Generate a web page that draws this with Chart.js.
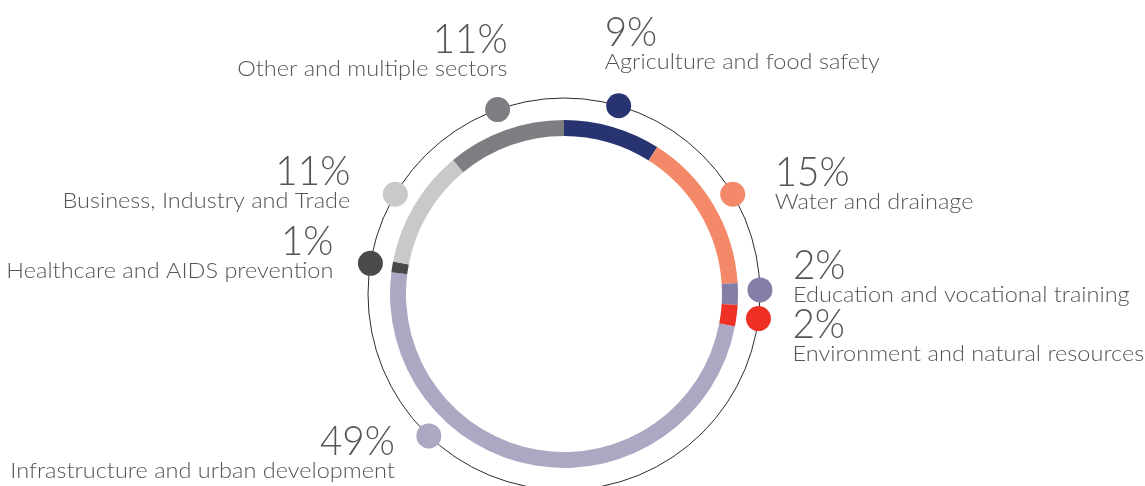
<!DOCTYPE html>
<html>
<head>
<meta charset="utf-8">
<title>Portfolio by sector</title>
<script src="https://cdn.jsdelivr.net/npm/chart.js@4"></script>
<style>
  html, body { margin: 0; padding: 0; background: #ffffff; }
  #wrap { width: 1145px; height: 486px; position: relative; overflow: hidden; }
</style>
</head>
<body>
<div id="wrap"><canvas id="chart" width="1145" height="486"></canvas></div>
<script>
// Sector shares (per cent), clockwise from the top
const categories = [
  'Agriculture and food safety',
  'Water and drainage',
  'Education and vocational training',
  'Environment and natural resources',
  'Infrastructure and urban development',
  'Healthcare and AIDS prevention',
  'Business, Industry and Trade',
  'Other and multiple sectors'
];
const shares = [9, 15, 2, 2, 49, 1, 11, 11];
const sectorColors = ['#283371', '#F4896A', '#847FA6', '#EE3124', '#ACA8C4', '#4A4A4C', '#C8C9CA', '#7D7E81'];

// Callout placement: marker angle (deg from top, null = slice middle),
// text offset from the marker and alignment
const callouts = [
  { angle: null,  dx: -14, dy: -60, align: 'left' },
  { angle: null,  dx: 42,  dy: -8,  align: 'left' },
  { angle: 88.8,  dx: 33,  dy: -11, align: 'left' },
  { angle: null,  dx: 34,  dy: 19,  align: 'left' },
  { angle: 223.6, dx: -34, dy: 19,  align: 'right' },
  { angle: null,  dx: -37, dy: -8,  align: 'right' },
  { angle: null,  dx: -45, dy: -9,  align: 'right' },
  { angle: null,  dx: 10,  dy: -57, align: 'right' }
];

const ORBIT_GAP = 22;   // distance from ring edge to the thin orbit circle
const DOT_R = 12.5;
const TEXT_COLOR = '#555557';
const FONT = 'Lato, "Open Sans", sans-serif';
const LINE_GAP = 23;

function stretchedText(ctx, text, x, y, sx) {
  ctx.save();
  ctx.translate(x, y);
  ctx.scale(sx, 1);
  ctx.fillText(text, 0, 0);
  ctx.restore();
}

const orbitPlugin = {
  id: 'orbit',
  beforeDatasetsDraw(chart) {
    const arc = chart.getDatasetMeta(0).data[0];
    if (!arc) return;
    const ctx = chart.ctx;
    ctx.save();
    ctx.beginPath();
    ctx.arc(arc.x, arc.y, arc.outerRadius + ORBIT_GAP, 0, Math.PI * 2);
    ctx.strokeStyle = '#2b2b2b';
    ctx.lineWidth = 1;
    ctx.stroke();
    ctx.restore();
  },
  afterDatasetsDraw(chart) {
    const meta = chart.getDatasetMeta(0);
    const ctx = chart.ctx;
    meta.data.forEach((arc, i) => {
      const R = arc.outerRadius + ORBIT_GAP;
      const c = callouts[i];
      const a = c.angle === null
        ? (arc.startAngle + arc.endAngle) / 2
        : (c.angle - 90) * Math.PI / 180;
      const px = arc.x + R * Math.cos(a);
      const py = arc.y + R * Math.sin(a);
      ctx.save();
      ctx.beginPath();
      ctx.arc(px, py, DOT_R, 0, Math.PI * 2);
      ctx.fillStyle = sectorColors[i];
      ctx.fill();

      const tx = px + c.dx;
      const ty = py + c.dy;
      ctx.fillStyle = TEXT_COLOR;
      ctx.textAlign = c.align;
      ctx.textBaseline = 'alphabetic';
      ctx.font = '300 42px ' + FONT;
      stretchedText(ctx, shares[i] + '%', tx, ty, 0.92);
      ctx.font = '300 21px ' + FONT;
      stretchedText(ctx, categories[i], tx, ty + LINE_GAP, 1.12);
      ctx.restore();
    });
  }
};

new Chart(document.getElementById('chart'), {
  type: 'doughnut',
  data: {
    labels: categories,
    datasets: [{
      data: shares,
      backgroundColor: sectorColors,
      borderWidth: 0,
      hoverOffset: 0
    }]
  },
  options: {
    responsive: false,
    animation: false,
    cutout: '90.8%',
    layout: { padding: { left: 390, right: 407, top: 120, bottom: 18 } },
    plugins: {
      legend: { display: false },
      tooltip: { enabled: false }
    }
  },
  plugins: [orbitPlugin]
});
</script>
</body>
</html>
